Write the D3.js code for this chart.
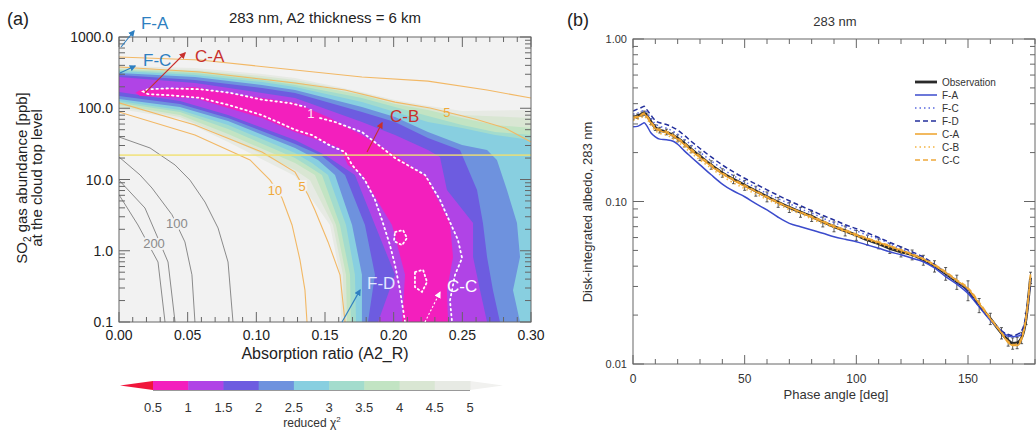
<!DOCTYPE html>
<html>
<head>
<meta charset="utf-8">
<script src="https://cdn.jsdelivr.net/npm/d3@7"></script>
<style>
  body { margin: 0; background: #fff; }
  svg text { font-family: "Liberation Sans", Arial, Helvetica, sans-serif; }
</style>
</head>
<body>
<script>
// ---------- panel (a): reduced chi^2 regions, points are [A2_R, SO2 ppb] ----------
var chiLevels = [5, 4.5, 4, 3.5, 3, 2.5, 2, 1.5, 1];
var bandColors = ['#e7eae4', '#d9e6d3', '#c2e4c3', '#a3dccd', '#88cfe0', '#6e92de', '#6d5ce0', '#b044e6', '#f31fbd'];

var upper5 = [[0,392],[0.0553,367],[0.1041,303],[0.1282,266],[0.1769,169],[0.201,131],[0.225,108],[0.2498,91.5],[0.30,94.5]];
var lower5 = [[0,97.6],[0.0444,70.6],[0.0794,33.6],[0.1282,11.2],[0.1413,5.0],[0.1536,2.3],[0.1609,0.46],[0.1617,0.1]];
var upper45 = [[0,367],[0.0553,344],[0.1041,284],[0.1282,249],[0.1769,164],[0.201,122],[0.225,101],[0.2498,80.3],[0.30,72.9]];
var lower45 = [[0,104],[0.0444,75.3],[0.0794,38.2],[0.1282,13.6],[0.1391,9.8],[0.1558,2.3],[0.1631,0.46],[0.1638,0.1]];
var upper4 = [[0,356],[0.0553,333],[0.1041,266],[0.1282,233],[0.1769,153],[0.201,115],[0.225,94.5],[0.2498,72.9],[0.2738,58.2],[0.30,52.8]];
var lower4 = [[0,111],[0.0444,80.3],[0.0794,43.5],[0.1282,17.0],[0.1427,11.6],[0.158,2.3],[0.1653,0.46],[0.166,0.1]];
var upper35 = [[0,344],[0.0553,313],[0.1041,249],[0.1282,212],[0.1769,139],[0.201,104],[0.225,77.8],[0.2498,58.2],[0.2738,46.4],[0.30,42.2]];
var lower35 = [[0,119],[0.0444,88.5],[0.0794,51.2],[0.1282,20.0],[0.1376,15.5],[0.1478,11.6],[0.1609,2.3],[0.1682,0.46],[0.1689,0.1]];
var upper3 = [[0,333],[0.0553,293],[0.1041,233],[0.1282,199],[0.1769,122],[0.201,88.5],[0.225,64.1],[0.2498,52.8],[0.2738,42.2],[0.30,35.8]];
var lower3 = [[0,126],[0.0444,94.5],[0.0794,58.2],[0.1282,23.5],[0.1405,17.0],[0.1522,11.6],[0.1653,2.3],[0.1718,0.46],[0.1726,0.1]];
var upper25 = [[0,313],[0.0553,275],[0.1041,212],[0.1282,180],[0.1769,104],[0.201,75.3],[0.225,46.4],[0.2498,30.5],[0.268,25.9],[0.2752,18.8],[0.2825,7.1],[0.2898,2.45],[0.292,0.82],[0.2869,0.28],[0.292,0.1]];
var lower25 = [[0,135],[0.0444,104],[0.0794,66.2],[0.1282,27.7],[0.1449,18.8],[0.1573,11.6],[0.1697,2.3],[0.1769,0.46],[0.1769,0.1]];
var upper2 = [[0,293],[0.0553,249],[0.1041,192],[0.1282,164],[0.1769,88.5],[0.201,64.1],[0.225,38.2],[0.2483,25.9],[0.2607,7.1],[0.265,2.45],[0.268,0.82],[0.2723,0.28],[0.2774,0.1]];
var lower2 = [[0,149],[0.0444,115],[0.0794,72.9],[0.1282,31.5],[0.1478,21.4],[0.1646,11.6],[0.1791,2.3],[0.1864,0.46],[0.1813,0.1]];
var upper15 = [[0,275],[0.0553,226],[0.1041,164],[0.1282,139],[0.1769,64.1],[0.201,42.2],[0.225,25.9],[0.2337,20.7],[0.2388,7.1],[0.2578,2.45],[0.2578,0.82],[0.2629,0.28],[0.268,0.1]];
var lower15 = [[0,169],[0.0444,126],[0.0794,80.3],[0.1282,35.8],[0.15,22.1],[0.1718,11.6],[0.1864,2.3],[0.201,0.46],[0.1886,0.1]];
var upper1 = [[0.012,165],[0.0153,180],[0.0553,199],[0.0794,164],[0.1041,139],[0.1282,119],[0.1536,72.9],[0.1769,42.2],[0.201,22.1],[0.225,10.5],[0.2286,7.1],[0.241,2.45],[0.2432,0.82],[0.2388,0.28],[0.2396,0.1]];
var lower1 = [[0.012,165],[0.0153,149],[0.0553,139],[0.0794,101],[0.1041,72.9],[0.1282,46.4],[0.1609,27.7],[0.1667,16.0],[0.1769,11.6],[0.1988,2.3],[0.2083,0.46],[0.2061,0.1]];

// white dotted contour (label "1" sits in the gap)
var dottedRight = [[0.1464,72.9],[0.1573,64.1],[0.1769,46.4],[0.201,20.0],[0.2228,11.6],[0.2337,5.2],[0.2468,1.42],[0.2498,0.79],[0.2447,0.46],[0.241,0.20],[0.2425,0.1]];
var dottedLeft = [[0.2083,0.1],[0.2046,0.28],[0.201,0.63],[0.1973,1.2],[0.1915,2.7],[0.1864,5.2],[0.1791,9.8],[0.1697,16.0],[0.1646,24.3],[0.1536,30],[0.1405,42],[0.1282,50],[0.1041,80],[0.0808,110],[0.059,140],[0.0371,152],[0.0211,158],[0.0175,172],[0.0211,185],[0.0371,190],[0.059,185],[0.0808,165],[0.1041,132],[0.1245,118],[0.1354,105]];
var dottedLoopA = [[0.201,1.83],[0.2068,1.95],[0.2097,1.51],[0.2061,1.2],[0.2002,1.37]];
var dottedLoopB = [[0.2155,0.503],[0.2214,0.54],[0.2243,0.364],[0.2206,0.264],[0.2155,0.31]];

// grey contours, lower left
var grayContourA = [[0,39.5],[0.0226,27.7],[0.0408,16.0],[0.0517,9.8],[0.0626,4.83],[0.0721,2.09],[0.0794,0.695],[0.083,0.1]];
var grayContour100 = [[0,20.7],[0.0153,11.6],[0.024,7.6],[0.0386,3.2],[0.048,1.33],[0.0531,0.46],[0.0553,0.1]];
var grayContour200 = [[0,9.8],[0.0189,3.98],[0.0299,1.28],[0.0357,0.695],[0.0408,0.1]];
var grayContourB = [[0,6.1],[0.0138,2.3],[0.0284,0.695],[0.0335,0.1]];

// orange contours
var orange10Upper = [[0,524],[0.059,476],[0.1282,344],[0.1769,275],[0.225,240],[0.268,180],[0.30,139]];
var orange5Upper = [[0,380],[0.059,323],[0.1282,226],[0.1646,180],[0.201,122],[0.2265,101],[0.2592,70.6],[0.2811,52.8],[0.30,33.6]];
var orange10Lower = [[0,88.5],[0.0553,42.2],[0.0954,18.8],[0.11,9.8],[0.1187,5.5],[0.126,2.3],[0.1318,0.74],[0.1354,0.28],[0.1369,0.1]];
var orange5Lower = [[0,119],[0.0553,58.2],[0.1041,24.3],[0.1282,12.7],[0.1376,6.1],[0.1427,3.7],[0.1522,1.33],[0.1609,0.46],[0.1646,0.1]];

var so2Level = 22;   // yellow horizontal line

// annotations
var annoNames = ['F-A', 'F-C', 'C-A', 'C-B', 'F-D', 'C-C'];
var annoText = [[0.016,1295],[0.0175,392],[0.0553,446],[0.1973,64.1],[0.1806,0.29],[0.2388,0.264]];
var annoArrow = [
  [[0.0015,724],[0.0109,1214]],
  [[0.0007,313],[0.0117,392]],
  [[0.0189,164],[0.0481,596]],
  [[0.1806,24.3],[0.1915,62.1]],
  [[0.1624,0.1],[0.1755,0.28]],
  [[0.2228,0.1],[0.2337,0.26]]
];

var cbTicks = [0.5, 1, 1.5, 2, 2.5, 3, 3.5, 4, 4.5, 5];

// ---------- panel (b): disk-integrated albedo ----------
var phase = [0,2,4,5,6,8,10,12,15,18,20,23,26,30,35,40,45,50,55,60,65,70,75,80,85,90,95,100,105,110,115,120,125,130,135,140,145,150,155,160,165,168,170,172,174,176,178];
var obs = [0.33,0.335,0.345,0.35,0.34,0.31,0.285,0.275,0.268,0.255,0.245,0.228,0.21,0.19,0.168,0.15,0.137,0.126,0.116,0.107,0.099,0.092,0.086,0.081,0.075,0.07,0.066,0.062,0.058,0.055,0.0515,0.049,0.047,0.0436,0.04,0.036,0.032,0.0285,0.023,0.019,0.0155,0.014,0.0134,0.0135,0.0145,0.019,0.034];
var obsErr = [0.03,0.03,0.03,0.03,0.03,0.04,0.04,0.04,0.04,0.04,0.05,0.05,0.05,0.06,0.06,0.06,0.06,0.07,0.07,0.07,0.07,0.07,0.07,0.07,0.07,0.07,0.07,0.07,0.07,0.07,0.07,0.07,0.07,0.07,0.08,0.09,0.1,0.14,0.1,0.08,0.08,0.08,0.08,0.08,0.08,0.08,0.08];
var fA = [0.288,0.29,0.30,0.305,0.295,0.265,0.25,0.242,0.24,0.235,0.225,0.205,0.188,0.168,0.146,0.128,0.116,0.107,0.097,0.0887,0.08,0.0734,0.07,0.0668,0.0638,0.0607,0.0585,0.0566,0.054,0.0515,0.049,0.047,0.0448,0.0426,0.039,0.0345,0.031,0.0272,0.0225,0.0186,0.016,0.0148,0.0147,0.0148,0.0152,0.019,0.033];
var fC = [0.345,0.35,0.36,0.365,0.355,0.325,0.3,0.29,0.283,0.27,0.26,0.242,0.223,0.201,0.178,0.159,0.144,0.132,0.122,0.112,0.104,0.097,0.09,0.085,0.079,0.074,0.07,0.066,0.062,0.059,0.055,0.051,0.048,0.0445,0.0405,0.036,0.032,0.0282,0.0228,0.0188,0.0158,0.015,0.0148,0.015,0.0158,0.02,0.034];
var fD = [0.36,0.37,0.38,0.385,0.37,0.34,0.315,0.305,0.298,0.285,0.275,0.255,0.235,0.212,0.188,0.168,0.152,0.139,0.128,0.118,0.109,0.101,0.094,0.088,0.082,0.077,0.072,0.068,0.064,0.06,0.056,0.0525,0.049,0.0455,0.041,0.0365,0.0325,0.028,0.0228,0.019,0.016,0.0152,0.015,0.0152,0.016,0.02,0.034];
var cA = [0.325,0.33,0.34,0.345,0.335,0.305,0.282,0.272,0.265,0.252,0.242,0.224,0.206,0.186,0.165,0.148,0.135,0.124,0.115,0.106,0.098,0.092,0.086,0.08,0.075,0.07,0.066,0.062,0.059,0.056,0.053,0.05,0.047,0.0442,0.0405,0.0365,0.0325,0.029,0.0235,0.019,0.0155,0.0135,0.013,0.013,0.0142,0.019,0.035];
var cB = [0.315,0.32,0.33,0.335,0.325,0.295,0.273,0.263,0.256,0.243,0.233,0.216,0.199,0.18,0.16,0.143,0.13,0.12,0.111,0.103,0.096,0.089,0.084,0.078,0.073,0.069,0.065,0.061,0.058,0.055,0.052,0.049,0.0465,0.0438,0.0402,0.0365,0.0325,0.029,0.0235,0.019,0.0155,0.0136,0.013,0.0131,0.0143,0.019,0.035];
var cC = [0.33,0.335,0.345,0.35,0.34,0.31,0.287,0.277,0.27,0.256,0.246,0.228,0.21,0.19,0.168,0.15,0.137,0.126,0.116,0.107,0.099,0.092,0.086,0.081,0.076,0.071,0.067,0.063,0.0595,0.0565,0.0535,0.0505,0.0475,0.0445,0.041,0.037,0.033,0.0295,0.024,0.0192,0.0157,0.0138,0.0132,0.0133,0.0146,0.0195,0.036];
var seriesNames = ['Observation', 'F-A', 'F-C', 'F-D', 'C-A', 'C-B', 'C-C'];

// ---------------------------------------------------------------
var svg = d3.select('body').append('svg')
    .attr('width', 1036)
    .attr('height', 430);
var defs = svg.append('defs');

function addMarker(id, color) {
  defs.append('marker').attr('id', id)
    .attr('viewBox', '0 0 10 10').attr('refX', 8).attr('refY', 5)
    .attr('markerWidth', 6).attr('markerHeight', 6).attr('orient', 'auto')
    .append('path').attr('d', 'M0,0L10,5L0,10Z').attr('fill', color);
}
addMarker('arrBlue', '#2e7fc1');
addMarker('arrRed', '#c8302c');
addMarker('arrWhite', '#ffffff');

// draws the box with inward ticks on all sides
function frameTicks(g, x, y, xTicks, yTicks, xLen, yLen) {
  var xr = x.range(), yr = y.range();
  var g2 = g.append('g').attr('stroke', '#666').attr('stroke-width', 1).attr('fill', 'none');
  xTicks.forEach(function(t) {
    var L = t.major ? xLen[0] : xLen[1];
    g2.append('line').attr('x1', x(t.v)).attr('x2', x(t.v)).attr('y1', yr[0]).attr('y2', yr[0] - L);
    g2.append('line').attr('x1', x(t.v)).attr('x2', x(t.v)).attr('y1', yr[1]).attr('y2', yr[1] + L);
  });
  yTicks.forEach(function(t) {
    var L = t.major ? yLen[0] : yLen[1];
    g2.append('line').attr('y1', y(t.v)).attr('y2', y(t.v)).attr('x1', xr[0]).attr('x2', xr[0] + L);
    g2.append('line').attr('y1', y(t.v)).attr('y2', y(t.v)).attr('x1', xr[1]).attr('x2', xr[1] - L);
  });
  g2.append('rect').attr('x', xr[0]).attr('y', yr[1])
    .attr('width', xr[1] - xr[0]).attr('height', yr[0] - yr[1]);
}

function logTicks(lo, hi) {
  var out = [];
  for (var d = lo; d < hi * 1.001; d *= 10) {
    out.push({v: d, major: true});
    if (d < hi * 0.999) for (var k = 2; k < 10; k++) out.push({v: d * k, major: false});
  }
  return out;
}

// ======================= panel (a) =======================
var xA = d3.scaleLinear().domain([0, 0.30]).range([119, 531]);
var yA = d3.scaleLog().domain([0.1, 1000]).range([322, 37]);
var lineA = d3.line().x(function(d) { return xA(d[0]); }).y(function(d) { return yA(d[1]); });

defs.append('clipPath').attr('id', 'clipA').append('rect')
  .attr('x', 119).attr('y', 37).attr('width', 412).attr('height', 285);

var gA = svg.append('g');
var plotA = gA.append('g').attr('clip-path', 'url(#clipA)');
plotA.append('rect').attr('x', 119).attr('y', 37).attr('width', 412).attr('height', 285).attr('fill', '#f2f2f2');

var bands = [
  {level: 5, upper: upper5, lower: lower5},
  {level: 4.5, upper: upper45, lower: lower45},
  {level: 4, upper: upper4, lower: lower4},
  {level: 3.5, upper: upper35, lower: lower35},
  {level: 3, upper: upper3, lower: lower3},
  {level: 2.5, upper: upper25, lower: lower25},
  {level: 2, upper: upper2, lower: lower2},
  {level: 1.5, upper: upper15, lower: lower15},
  {level: 1, upper: upper1, lower: lower1}
];
bands.forEach(function(b) {
  var pts = b.upper.slice();
  if (b.upper[b.upper.length - 1][0] >= 0.3) pts.push([0.3, 0.1]);
  pts = pts.concat(b.lower.slice().reverse());
  plotA.append('path').attr('d', lineA(pts) + 'Z')
    .attr('fill', bandColors[chiLevels.indexOf(b.level)]);
});

// grey contours
[grayContourA, grayContour100, grayContour200, grayContourB].forEach(function(c) {
  plotA.append('path').attr('d', lineA(c)).attr('fill', 'none').attr('stroke', '#8a8a8a').attr('stroke-width', 1);
});
// orange contours
[orange10Upper, orange5Upper, orange10Lower, orange5Lower].forEach(function(c) {
  plotA.append('path').attr('d', lineA(c)).attr('fill', 'none').attr('stroke', '#f2b865').attr('stroke-width', 1.1);
});

// yellow line
plotA.append('line').attr('x1', xA(0)).attr('x2', xA(0.3)).attr('y1', yA(so2Level)).attr('y2', yA(so2Level))
  .attr('stroke', '#f0e070').attr('stroke-opacity', 0.8).attr('stroke-width', 1.6);

// dotted white contour
[dottedRight, dottedLeft].forEach(function(c) {
  plotA.append('path').attr('d', lineA(c)).attr('fill', 'none').attr('stroke', '#fff')
    .attr('stroke-width', 1.8).attr('stroke-dasharray', '1.5,3.5').attr('stroke-linecap', 'round');
});
[dottedLoopA, dottedLoopB].forEach(function(c) {
  plotA.append('path').attr('d', lineA(c) + 'Z').attr('fill', 'none').attr('stroke', '#fff')
    .attr('stroke-width', 1.8).attr('stroke-dasharray', '1.5,3').attr('stroke-linecap', 'round');
});

// contour labels
function contourLabel(txt, p, color, halo) {
  plotA.append('text').attr('x', xA(p[0])).attr('y', yA(p[1]))
    .attr('text-anchor', 'middle').attr('dominant-baseline', 'central')
    .attr('font-size', 13).attr('fill', color)
    .attr('stroke', halo).attr('stroke-width', halo ? 4 : 0).attr('paint-order', 'stroke')
    .text(txt);
}
contourLabel('100', [0.0422, 2.45], '#8a8a8a', '#f2f2f2');
contourLabel('200', [0.0255, 1.28], '#8a8a8a', '#f2f2f2');
contourLabel('10', [0.1136, 7.1], '#f0a838', '#f2f2f2');
contourLabel('5', [0.1333, 7.85], '#f0a838', '#f2f2f2');
contourLabel('5', [0.2388, 88.5], '#f0a838', null);
contourLabel('1', [0.1398, 85], '#ffe6f6', null);

// frame + ticks
var xTicksA = d3.range(0, 31).map(function(i) { return {v: i / 100, major: i % 5 === 0}; });
frameTicks(gA, xA, yA, xTicksA, logTicks(0.1, 1000), [10, 5], [11, 6]);

xTicksA.filter(function(t) { return t.major; }).forEach(function(t) {
  gA.append('text').attr('x', xA(t.v)).attr('y', 340).attr('text-anchor', 'middle')
    .attr('font-size', 14).attr('fill', '#222').text(d3.format('.2f')(t.v));
});
[0.1, 1, 10, 100, 1000].forEach(function(v) {
  gA.append('text').attr('x', 113).attr('y', yA(v) + 5).attr('text-anchor', 'end')
    .attr('font-size', 14).attr('fill', '#222').text(d3.format('.1f')(v));
});
gA.append('text').attr('x', 325).attr('y', 359).attr('text-anchor', 'middle')
  .attr('font-size', 16).attr('fill', '#222').text('Absorption ratio (A2_R)');

var yl = gA.append('text').attr('transform', 'translate(27,178) rotate(-90)')
  .attr('text-anchor', 'middle').attr('font-size', 15).attr('fill', '#222');
yl.append('tspan').text('SO');
yl.append('tspan').attr('font-size', 10).attr('dy', 4).text('2');
yl.append('tspan').attr('dy', -4).text(' gas abundance [ppb]');
gA.append('text').attr('transform', 'translate(42,178) rotate(-90)')
  .attr('text-anchor', 'middle').attr('font-size', 15).attr('fill', '#222').text('at the cloud top level');

gA.append('text').attr('x', 325).attr('y', 23).attr('text-anchor', 'middle')
  .attr('font-size', 15).attr('fill', '#222').text('283 nm, A2 thickness = 6 km');
gA.append('text').attr('x', 7).attr('y', 25).attr('font-size', 18).attr('fill', '#222').text('(a)');

// annotations
annoNames.forEach(function(name, i) {
  var red = name === 'C-A' || name === 'C-B';
  var txtColor = red ? '#c8302c' : (name === 'F-D' ? '#e2e8ff' : (name === 'C-C' ? '#ffffff' : '#2e7fc1'));
  var arrColor = red ? '#c8302c' : (name === 'C-C' ? '#ffffff' : '#2e7fc1');
  var marker = red ? 'arrRed' : (name === 'C-C' ? 'arrWhite' : 'arrBlue');
  gA.append('path').attr('d', lineA(annoArrow[i])).attr('fill', 'none')
    .attr('stroke', arrColor).attr('stroke-width', 1.1)
    .attr('stroke-dasharray', name === 'C-C' ? '2,2' : null)
    .attr('marker-end', 'url(#' + marker + ')');
  gA.append('text').attr('x', xA(annoText[i][0])).attr('y', yA(annoText[i][1]))
    .attr('font-size', 17).attr('fill', txtColor).text(name);
});

// colour bar
var xC = d3.scaleLinear().domain([0.5, 5]).range([153, 470]);
var gC = svg.append('g');
gC.append('path').attr('d', 'M' + xC(0.5) + ',381L120,385.5L' + xC(0.5) + ',390Z').attr('fill', '#f0163c');
gC.append('path').attr('d', 'M' + xC(5) + ',381L503,385.5L' + xC(5) + ',390Z').attr('fill', '#f1f1ef');
cbTicks.slice(0, -1).forEach(function(v, i) {
  gC.append('rect').attr('x', xC(v)).attr('y', 381).attr('width', xC(cbTicks[i + 1]) - xC(v) + 0.5).attr('height', 9)
    .attr('fill', bandColors[chiLevels.indexOf(cbTicks[i + 1])]);
});
gC.append('line').attr('x1', xC(0.5)).attr('x2', xC(5)).attr('y1', 390.5).attr('y2', 390.5)
  .attr('stroke', '#999').attr('stroke-width', 1);
cbTicks.forEach(function(v) {
  gC.append('text').attr('x', xC(v)).attr('y', 412).attr('text-anchor', 'middle')
    .attr('font-size', 13).attr('fill', '#333').text(String(v));
});
var cl = gC.append('text').attr('x', 312).attr('y', 427).attr('text-anchor', 'middle')
  .attr('font-size', 12).attr('fill', '#333');
cl.append('tspan').text('reduced \u03c7');
cl.append('tspan').attr('font-size', 8).attr('dy', -5).text('2');

// ======================= panel (b) =======================
var xB = d3.scaleLinear().domain([0, 180]).range([633, 1035]);
var yB = d3.scaleLog().domain([0.01, 1]).range([364, 39]);

defs.append('clipPath').attr('id', 'clipB').append('rect')
  .attr('x', 633).attr('y', 39).attr('width', 402).attr('height', 325);

var gB = svg.append('g');
var plotB = gB.append('g').attr('clip-path', 'url(#clipB)');

var lineB = d3.line()
  .x(function(d, i) { return xB(phase[i]); })
  .y(function(d) { return yB(d); })
  .curve(d3.curveMonotoneX);

var styles = {
  'Observation': {data: obs, color: '#2a2a2a', width: 2.8, dash: null},
  'F-A': {data: fA, color: '#3b4bcc', width: 1.5, dash: null},
  'F-C': {data: fC, color: '#5a6ae0', width: 1.5, dash: '1.5,3'},
  'F-D': {data: fD, color: '#232f9c', width: 1.5, dash: '5,3'},
  'C-A': {data: cA, color: '#eea22a', width: 1.5, dash: null},
  'C-B': {data: cB, color: '#f3b443', width: 1.5, dash: '1.5,3'},
  'C-C': {data: cC, color: '#eea83a', width: 1.5, dash: '5,3'}
};

// error bars of the observation
var eb = plotB.append('g').attr('stroke', '#333').attr('stroke-width', 0.8);
obs.forEach(function(v, i) {
  var x = xB(phase[i]), y1 = yB(v * (1 - obsErr[i])), y2 = yB(v * (1 + obsErr[i]));
  eb.append('line').attr('x1', x).attr('x2', x).attr('y1', y1).attr('y2', y2);
  eb.append('line').attr('x1', x - 1.5).attr('x2', x + 1.5).attr('y1', y1).attr('y2', y1);
  eb.append('line').attr('x1', x - 1.5).attr('x2', x + 1.5).attr('y1', y2).attr('y2', y2);
});

seriesNames.forEach(function(name) {
  var s = styles[name];
  plotB.append('path').attr('d', lineB(s.data)).attr('fill', 'none')
    .attr('stroke', s.color).attr('stroke-width', s.width)
    .attr('stroke-dasharray', s.dash);
});

var xTicksB = d3.range(0, 19).map(function(i) { return {v: i * 10, major: i % 5 === 0}; });
frameTicks(gB, xB, yB, xTicksB, logTicks(0.01, 1), [9, 5], [11, 5]);

[0, 50, 100, 150].forEach(function(v) {
  gB.append('text').attr('x', xB(v)).attr('y', 383).attr('text-anchor', 'middle')
    .attr('font-size', 12).attr('fill', '#333').text(v);
});
[0.01, 0.1, 1].forEach(function(v) {
  gB.append('text').attr('x', 627).attr('y', yB(v) + 4).attr('text-anchor', 'end')
    .attr('font-size', 11).attr('fill', '#333').text(d3.format('.2f')(v));
});
gB.append('text').attr('x', 836).attr('y', 399).attr('text-anchor', 'middle')
  .attr('font-size', 13).attr('fill', '#333').text('Phase angle [deg]');
gB.append('text').attr('transform', 'translate(592,212) rotate(-90)').attr('text-anchor', 'middle')
  .attr('font-size', 13).attr('fill', '#333').text('Disk-integrated albedo, 283 nm');
gB.append('text').attr('x', 835).attr('y', 26).attr('text-anchor', 'middle')
  .attr('font-size', 13).attr('fill', '#333').text('283 nm');
gB.append('text').attr('x', 567).attr('y', 26).attr('font-size', 18).attr('fill', '#222').text('(b)');

// legend
var leg = gB.append('g');
seriesNames.forEach(function(name, i) {
  var s = styles[name], y = 82 + i * 13;
  leg.append('line').attr('x1', 915).attr('x2', 937).attr('y1', y).attr('y2', y)
    .attr('stroke', s.color).attr('stroke-width', s.width).attr('stroke-dasharray', s.dash);
  leg.append('text').attr('x', 942).attr('y', y + 3.5).attr('font-size', 10)
    .attr('fill', '#333').text(name);
});
</script>
</body>
</html>
